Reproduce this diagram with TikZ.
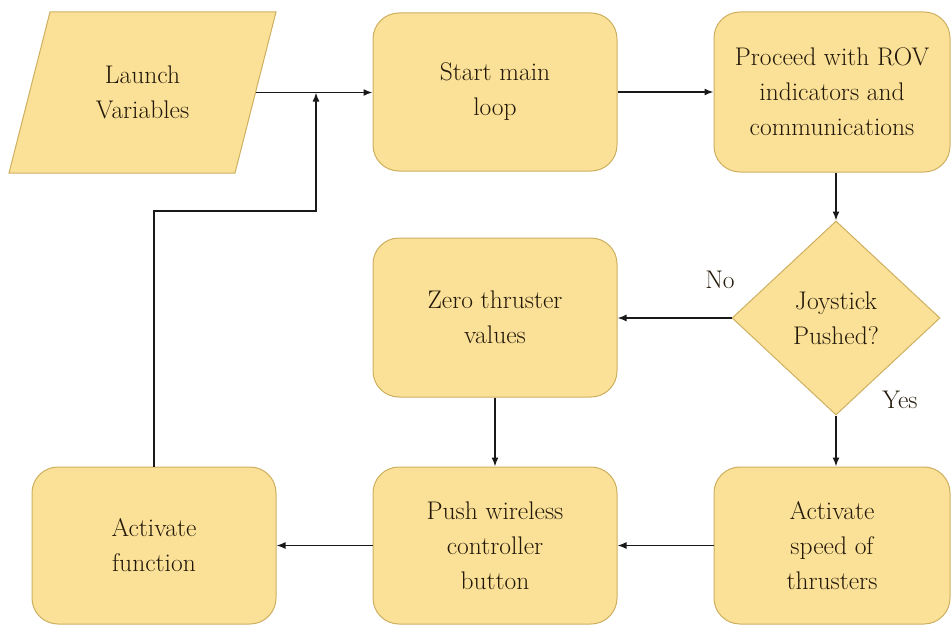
\documentclass[tikz,border=0pt]{standalone}
\usetikzlibrary{shapes.geometric,arrows.meta}
\definecolor{boxfill}{RGB}{251,225,152}
\definecolor{boxline}{RGB}{205,175,95}
\definecolor{txt}{RGB}{35,25,10}
\definecolor{lin}{RGB}{25,25,25}
\tikzset{
  tfont/.style={text=txt, font=\rmfamily\fontsize{25.5}{35}\selectfont},
  rbox/.style={draw=boxline, fill=boxfill, line width=1pt, rounded corners=26pt,
    minimum width=244pt, minimum height=158pt, inner sep=0pt, align=center, tfont},
  wbox/.style={rbox, minimum width=236pt},
  dbox/.style={draw=boxline, fill=boxfill, line width=1pt, diamond, aspect=1.07,
    minimum width=208pt, minimum height=194pt, inner sep=0pt, align=center, tfont},
  ptext/.style={minimum width=226pt, minimum height=161pt, inner sep=0pt, align=center, tfont},
  lbl/.style={tfont, inner sep=0pt},
  arr/.style={draw=lin, line width=1.5pt, -{Latex[length=9pt,width=7pt]}}
}
\begin{document}
\begin{tikzpicture}[x=1pt,y=-1pt]
\useasboundingbox (0,0) rectangle (951,626);
% parallelogram
\filldraw[draw=boxline, fill=boxfill, line width=1pt] (50,12) -- (276,12) -- (235,173) -- (9,173) -- cycle;
\node[ptext] (launch) at (142.5,92.5) {Launch\\Variables};
\node[rbox] (start) at (495,92) {Start main\\loop};
\node[wbox, minimum height=160pt] (proc) at (832,92) {Proceed with ROV\\indicators and\\communications};
\node[dbox] (dia) at (836,318) {Joystick\\Pushed?};
\node[rbox, minimum height=159pt] (zero) at (495,317.5) {Zero thruster\\values};
\node[rbox, minimum height=157pt] (actf) at (154,545.5) {Activate\\function};
\node[rbox, minimum height=157pt] (push) at (495,545.5) {Push wireless\\controller\\button};
\node[wbox, minimum height=157pt] (acts) at (832,545.5) {Activate\\speed of\\thrusters};
\node[lbl] (no) at (720,280) {No};
\node[lbl] (yes) at (900,400) {Yes};
\coordinate (bend) at (316,211);
\coordinate (merge) at (316,92.5);
% connectors
\draw[arr] (launch.east) -- (launch.east -| start.west);
\draw[arr] (start.east) -- (start.east -| proc.west);
\draw[arr] (proc.south -| dia.north) -- (dia.north);
\draw[arr] (dia.west) -- (dia.west -| zero.east);
\draw[arr] (dia.south) -- (dia.south |- acts.north);
\draw[arr] (zero.south) -- (push.north);
\draw[arr] (acts.west) -- (push.east);
\draw[arr] (push.west) -- (actf.east);
\draw[arr] (actf.north) |- (bend) -- (merge);
\end{tikzpicture}
\end{document}
